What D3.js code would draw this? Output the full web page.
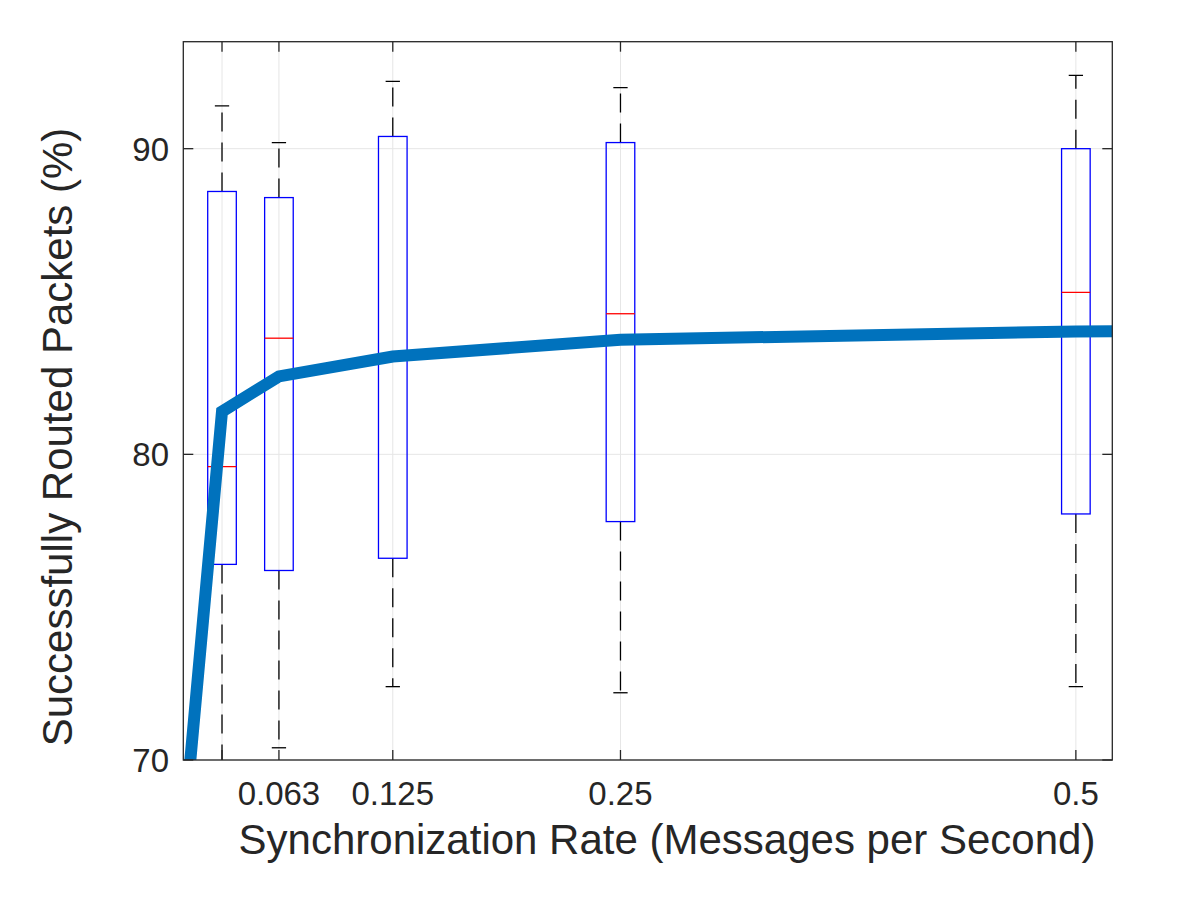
<!DOCTYPE html>
<html>
<head>
<meta charset="utf-8">
<script src="https://cdn.jsdelivr.net/npm/d3@7"></script>
<style>
    body { margin: 0; background: #fff; }
    text { font-family: "Liberation Sans", Arial, Helvetica, sans-serif; fill: #262626; }
</style>
</head>
<body>
<div class="chart"></div>
<script>
// sync rates (messages per second)
const rates = [0.03125, 0.0625, 0.125, 0.25, 0.5];
// box plot stats per rate
const whiskerHigh = [91.4, 90.2, 92.2, 92.0, 92.4];
const q3 = [88.6, 88.4, 90.4, 90.2, 90.0];
const medians = [79.6, 83.8, 83.1, 84.6, 85.3];
const q1 = [76.4, 76.2, 76.6, 77.8, 78.05];
const whiskerLow = [68.5, 70.4, 72.4, 72.2, 72.4];

// mean curve (the thick line), first and last points fall outside the axes
const meanX = [0, 0.03125, 0.0625, 0.125, 0.25, 0.5, 1];
const meanY = [60.9, 81.4, 82.55, 83.2, 83.75, 84.02, 84.2];

const xTicks = [0.03125, 0.0625, 0.125, 0.25, 0.5];
const xTickLabels = ["", "0.063", "0.125", "0.25", "0.5"];
const yTicks = [70, 80, 90];

const width = 1200;
const height = 900;
const plotLeft = 183.3, plotRight = 1112.3, plotTop = 41.7, plotBottom = 760;

const x = d3.scaleLinear().domain([0.01, 0.52]).range([plotLeft, plotRight]);
const y = d3.scaleLinear().domain([70, 93.5]).range([plotBottom, plotTop]);

const svg = d3.select('.chart')
    .append('svg')
    .attr('width', width)
    .attr('height', height);

svg.append("clipPath").attr("id", "plotclip")
    .append("rect")
    .attr("x", plotLeft).attr("y", plotTop)
    .attr("width", plotRight - plotLeft).attr("height", plotBottom - plotTop);

// grid
svg.selectAll(".gridx")
    .data(xTicks)
    .enter()
    .append("line")
    .attr("x1", d => x(d)).attr("x2", d => x(d))
    .attr("y1", plotTop).attr("y2", plotBottom)
    .attr("stroke", "#e6e6e6").attr("stroke-width", 1);

svg.selectAll(".gridy")
    .data(yTicks)
    .enter()
    .append("line")
    .attr("x1", plotLeft).attr("x2", plotRight)
    .attr("y1", d => y(d)).attr("y2", d => y(d))
    .attr("stroke", "#e6e6e6").attr("stroke-width", 1);

// boxes
const boxW = 0.0157;
const boxes = svg.append("g").attr("clip-path", "url(#plotclip)");
const idx = d3.range(rates.length);

boxes.selectAll(".whiskUp")
    .data(idx)
    .enter()
    .append("line")
    .attr("x1", i => x(rates[i])).attr("x2", i => x(rates[i]))
    .attr("y1", i => y(q3[i])).attr("y2", i => y(whiskerHigh[i]))
    .attr("stroke", "#000").attr("stroke-width", 1.3)
    .attr("stroke-dasharray", "19,11");

boxes.selectAll(".whiskDown")
    .data(idx)
    .enter()
    .append("line")
    .attr("x1", i => x(rates[i])).attr("x2", i => x(rates[i]))
    .attr("y1", i => y(q1[i])).attr("y2", i => y(whiskerLow[i]))
    .attr("stroke", "#000").attr("stroke-width", 1.3)
    .attr("stroke-dasharray", "19,11");

boxes.selectAll(".capUp")
    .data(idx)
    .enter()
    .append("line")
    .attr("x1", i => x(rates[i] - boxW / 4)).attr("x2", i => x(rates[i] + boxW / 4))
    .attr("y1", i => y(whiskerHigh[i])).attr("y2", i => y(whiskerHigh[i]))
    .attr("stroke", "#000").attr("stroke-width", 1.3);

boxes.selectAll(".capDown")
    .data(idx)
    .enter()
    .append("line")
    .attr("x1", i => x(rates[i] - boxW / 4)).attr("x2", i => x(rates[i] + boxW / 4))
    .attr("y1", i => y(whiskerLow[i])).attr("y2", i => y(whiskerLow[i]))
    .attr("stroke", "#000").attr("stroke-width", 1.3);

boxes.selectAll(".box")
    .data(idx)
    .enter()
    .append("rect")
    .attr("x", i => x(rates[i] - boxW / 2))
    .attr("width", i => x(rates[i] + boxW / 2) - x(rates[i] - boxW / 2))
    .attr("y", i => y(q3[i]))
    .attr("height", i => y(q1[i]) - y(q3[i]))
    .attr("fill", "none")
    .attr("stroke", "#0000ff").attr("stroke-width", 1.3);

boxes.selectAll(".median")
    .data(idx)
    .enter()
    .append("line")
    .attr("x1", i => x(rates[i] - boxW / 2)).attr("x2", i => x(rates[i] + boxW / 2))
    .attr("y1", i => y(medians[i])).attr("y2", i => y(medians[i]))
    .attr("stroke", "#ff0000").attr("stroke-width", 1.3);

// mean line
const line = d3.line()
    .x((d, i) => x(meanX[i]))
    .y(d => y(d));

svg.append("path")
    .attr("clip-path", "url(#plotclip)")
    .attr("d", line(meanY))
    .attr("fill", "none")
    .attr("stroke", "#0072bd")
    .attr("stroke-width", 12)
    .attr("stroke-linejoin", "miter");

// axes box and ticks
svg.append("rect")
    .attr("x", plotLeft).attr("y", plotTop)
    .attr("width", plotRight - plotLeft).attr("height", plotBottom - plotTop)
    .attr("fill", "none").attr("stroke", "#262626").attr("stroke-width", 1.3);

const tickLen = 10;
xTicks.forEach(function (t) {
    svg.append("line")
        .attr("x1", x(t)).attr("x2", x(t))
        .attr("y1", plotBottom).attr("y2", plotBottom - tickLen)
        .attr("stroke", "#262626").attr("stroke-width", 1.3);
    svg.append("line")
        .attr("x1", x(t)).attr("x2", x(t))
        .attr("y1", plotTop).attr("y2", plotTop + tickLen)
        .attr("stroke", "#262626").attr("stroke-width", 1.3);
});
yTicks.forEach(function (t) {
    svg.append("line")
        .attr("x1", plotLeft).attr("x2", plotLeft + tickLen)
        .attr("y1", y(t)).attr("y2", y(t))
        .attr("stroke", "#262626").attr("stroke-width", 1.3);
    svg.append("line")
        .attr("x1", plotRight).attr("x2", plotRight - tickLen)
        .attr("y1", y(t)).attr("y2", y(t))
        .attr("stroke", "#262626").attr("stroke-width", 1.3);
});

// tick labels
svg.selectAll(".xlab")
    .data(xTicks)
    .enter()
    .append("text")
    .attr("x", d => x(d))
    .attr("y", 805)
    .attr("text-anchor", "middle")
    .attr("font-size", "33px")
    .text((d, i) => xTickLabels[i]);

svg.selectAll(".ylab")
    .data(yTicks)
    .enter()
    .append("text")
    .attr("x", 169)
    .attr("y", d => y(d) + 12)
    .attr("text-anchor", "end")
    .attr("font-size", "33px")
    .text(d => d);

// axis titles
svg.append("text")
    .attr("x", 667)
    .attr("y", 854)
    .attr("text-anchor", "middle")
    .attr("font-size", "42px")
    .text("Synchronization Rate (Messages per Second)");

svg.append("text")
    .attr("transform", "translate(72,437) rotate(-90)")
    .attr("text-anchor", "middle")
    .attr("font-size", "42px")
    .text("Successfully Routed Packets (%)");
</script>
</body>
</html>
